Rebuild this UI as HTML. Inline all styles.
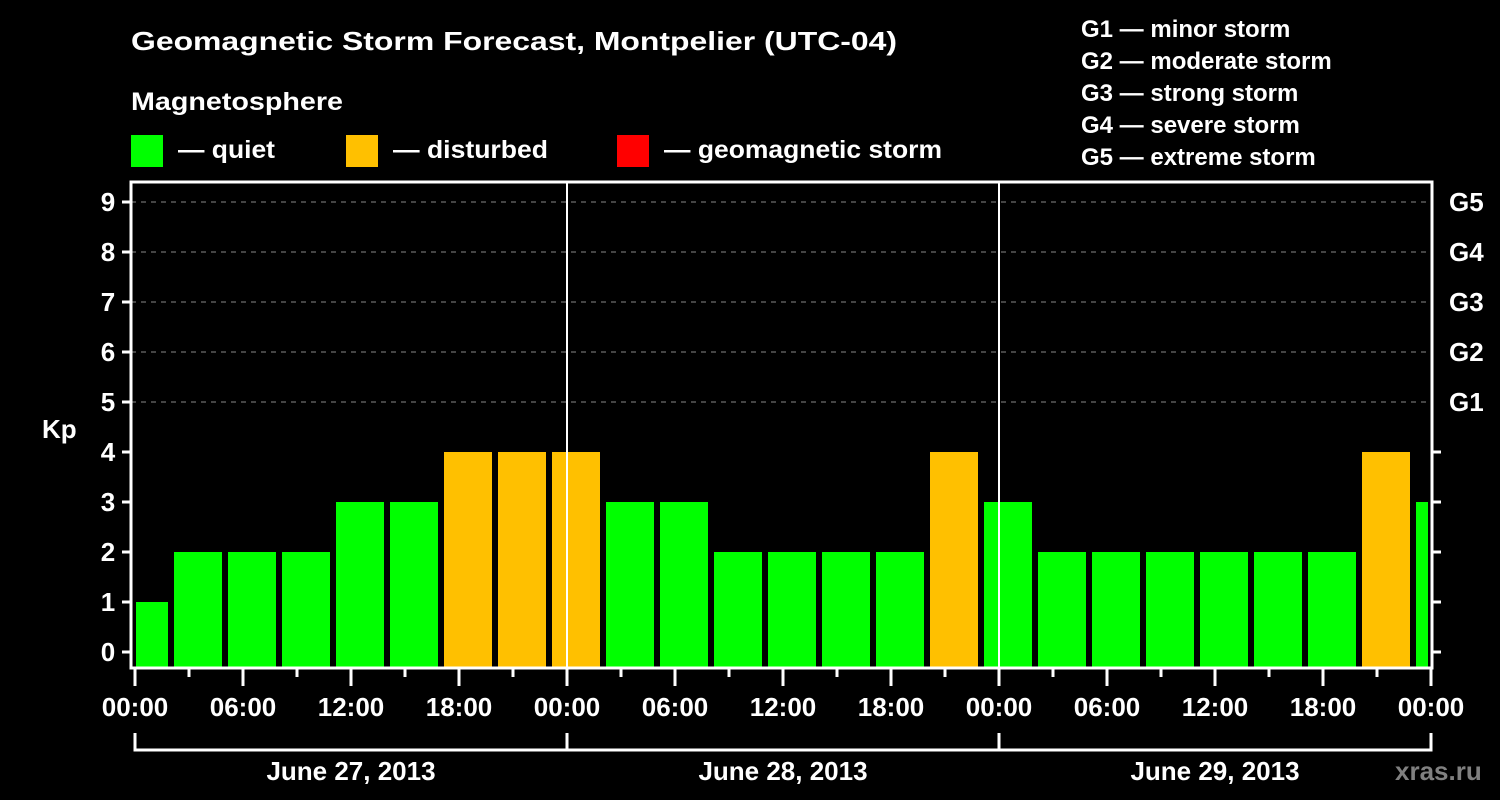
<!DOCTYPE html>
<html><head><meta charset="utf-8"><style>
html,body{margin:0;padding:0;background:#000;}
svg{display:block;font-family:"Liberation Sans",Arial,sans-serif;font-weight:bold;}
</style></head><body>
<svg id="chart" width="1500" height="800" viewBox="0 0 1500 800">
<rect width="1500" height="800" fill="#000"/>
<text x="131" y="50" font-size="26" fill="#fff" textLength="766" lengthAdjust="spacingAndGlyphs">Geomagnetic Storm Forecast, Montpelier (UTC-04)</text>
<text x="131" y="110" font-size="25" fill="#fff" textLength="212" lengthAdjust="spacingAndGlyphs">Magnetosphere</text>
<g>
<rect x="131" y="135" width="32" height="32" fill="#00ff00"/>
<text x="178" y="158" font-size="25" fill="#fff" textLength="97" lengthAdjust="spacingAndGlyphs">— quiet</text></g>
<g>
<rect x="346" y="135" width="32" height="32" fill="#ffc000"/>
<text x="393" y="158" font-size="25" fill="#fff" textLength="155" lengthAdjust="spacingAndGlyphs">— disturbed</text></g>
<g>
<rect x="617" y="135" width="32" height="32" fill="#ff0000"/>
<text x="664" y="158" font-size="25" fill="#fff" textLength="278" lengthAdjust="spacingAndGlyphs">— geomagnetic storm</text></g>
<g id="glegend"></g>
<g id="grid"></g><g id="bars"></g><g id="axes"></g>
<text x="1395" y="780" font-size="26" fill="#808080">xras.ru</text>
</svg>
<script>
const kpValues = [1,2,2,2,3,3,4,4,4,3,3,2,2,2,2,4,3,2,2,2,2,2,2,4,3];
const yTicks = [0,1,2,3,4,5,6,7,8,9];
const gLabels = ["G1","G2","G3","G4","G5"];
const gDescriptions = ["G1 — minor storm","G2 — moderate storm","G3 — strong storm","G4 — severe storm","G5 — extreme storm"];
const dayLabels = ["June 27, 2013","June 28, 2013","June 29, 2013"];
const hourLabels = ["00:00","06:00","12:00","18:00"];
const firstBarStartHour = -1;
const barHours = 3;
const totalHours = 72;

const NS="http://www.w3.org/2000/svg";
const L=131,R=1432,T=182,B=668;
const x=h=>135+h*18;
const y=v=>652-v*50;
function el(tag,attrs,parent,text){const e=document.createElementNS(NS,tag);for(const k in attrs)e.setAttribute(k,attrs[k]);if(text!==undefined)e.textContent=text;document.getElementById(parent).appendChild(e);return e;}

gDescriptions.forEach((d,i)=>{const t=el('text',{x:1081,y:37+i*32,'font-size':24,fill:'#fff'},'glegend',d);

});

// grid
for(let v=5;v<=9;v++){const g=el('line',{x1:L,x2:R,y1:y(v),y2:y(v),stroke:'#888','stroke-width':1,'stroke-dasharray':'5,5'},'grid');

}

// bars
kpValues.forEach((v,i)=>{
 const h0=firstBarStartHour+i*barHours;
 let x0=x(h0)+3, x1=x(h0+barHours)-3;
 x0=Math.max(x0,L+5); x1=Math.min(x1,R-4);
 const col=v>=5?'#ff0000':(v>=4?'#ffc000':'#00ff00');
 const r=el('rect',{x:x0,y:y(v),width:x1-x0,height:B-1-y(v),fill:col},'bars');
 
 
});

// day separators
for(let d=1;d<3;d++){const s=el('line',{x1:x(d*24),x2:x(d*24),y1:T,y2:B,stroke:'#fff','stroke-width':2},'axes');

}

// frame
const f=el('rect',{x:L,y:T,width:R-L,height:B-T,fill:'none',stroke:'#fff','stroke-width':3},'axes');



yTicks.forEach(v=>{
 const tk=el('line',{x1:L-9,x2:L,y1:y(v),y2:y(v),stroke:'#fff','stroke-width':3},'axes');
 
 
 const lb=el('text',{x:108,y:y(v)+9,'font-size':26,fill:'#fff','text-anchor':'middle'},'axes',String(v));
 
 
 if(v<5){const rt=el('line',{x1:R,x2:R+9,y1:y(v),y2:y(v),stroke:'#fff','stroke-width':3},'axes');
  
  }
 else{const gl=el('text',{x:1449,y:y(v)+9,'font-size':26,fill:'#fff'},'axes',gLabels[v-5]);
  
  }
});
const kp=el('text',{x:42,y:438,'font-size':26,fill:'#fff'},'axes','Kp');



for(let h=0;h<=totalHours;h+=3){
 const major=h%6===0;
 const tk=el('line',{x1:x(h),x2:x(h),y1:B,y2:major?686:677,stroke:'#fff','stroke-width':3},'axes');
 
 
 if(major){const lb=el('text',{x:x(h),y:716,'font-size':26,fill:'#fff','text-anchor':'middle'},'axes',hourLabels[(h/6)%4]);
  
  }
}
const br=el('polyline',{points:`${x(0)},733 ${x(0)},750 ${x(72)},750 ${x(72)},733`,fill:'none',stroke:'#fff','stroke-width':3},'axes');


dayLabels.forEach((d,i)=>{
 if(i>0){const t=el('line',{x1:x(i*24),x2:x(i*24),y1:733,y2:750,stroke:'#fff','stroke-width':3},'axes');
  
  }
 const lb=el('text',{x:x(i*24+12),y:780,'font-size':26,fill:'#fff','text-anchor':'middle'},'axes',d);
 
 
});
</script>
</body></html>
